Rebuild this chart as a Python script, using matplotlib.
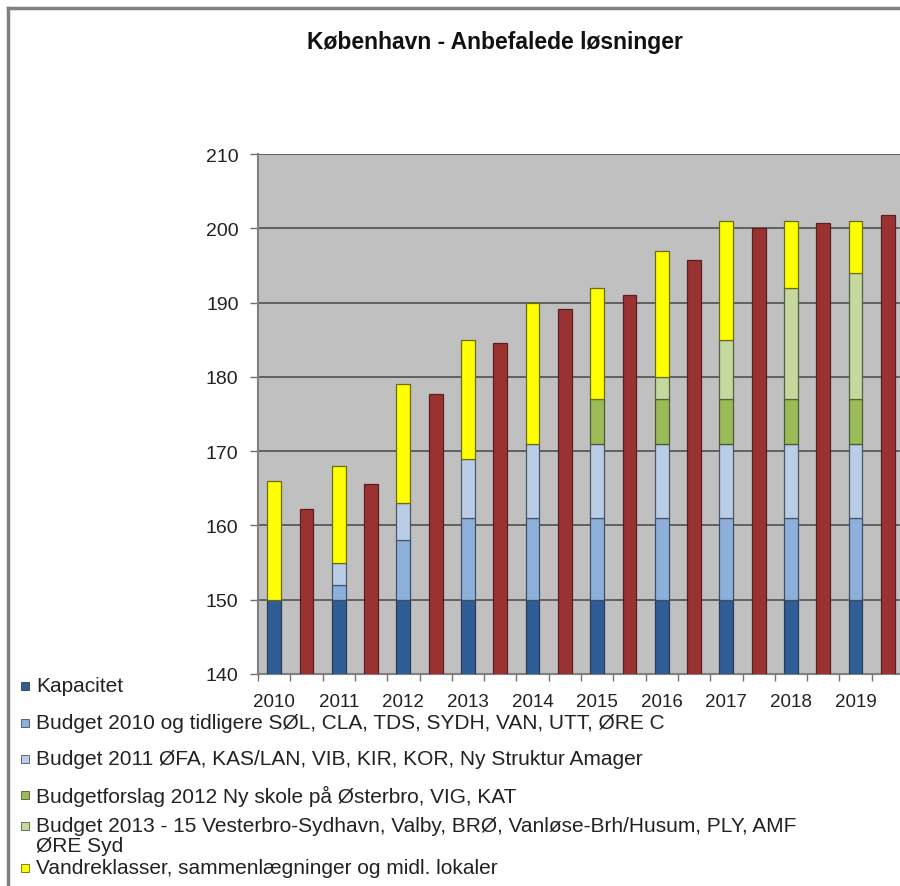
import matplotlib
matplotlib.use("Agg")
import matplotlib.pyplot as plt
import numpy as np
from matplotlib.lines import Line2D
from matplotlib.patches import Rectangle

plt.rcParams['font.family'] = ['Liberation Sans', 'DejaVu Sans']

# data
aar = ['2010', '2011', '2012', '2013', '2014', '2015', '2016', '2017', '2018', '2019']
kapacitet = [150, 150, 150, 150, 150, 150, 150, 150, 150, 150]
budget2010 = [0, 2, 8, 11, 11, 11, 11, 11, 11, 11]
budget2011 = [0, 3, 5, 8, 10, 10, 10, 10, 10, 10]
budget2012 = [0, 0, 0, 0, 0, 6, 6, 6, 6, 6]
budget2013 = [0, 0, 0, 0, 0, 0, 3, 8, 15, 17]
vandre = [16, 13, 16, 16, 19, 15, 17, 16, 9, 7]
behov = [162.2, 165.6, 177.7, 184.6, 189.1, 191.0, 195.7, 200.0, 200.7, 201.8]

labels = ['Kapacitet',
          'Budget 2010 og tidligere SØL, CLA, TDS, SYDH, VAN, UTT, ØRE C',
          'Budget 2011 ØFA, KAS/LAN, VIB, KIR, KOR, Ny Struktur Amager',
          'Budgetforslag 2012 Ny skole på Østerbro, VIG, KAT',
          'Budget 2013 - 15 Vesterbro-Sydhavn, Valby, BRØ, Vanløse-Brh/Husum, PLY, AMF\nØRE Syd',
          'Vandreklasser, sammenlægninger og midl. lokaler']
farver = ['#2F5E96', '#8DB0DA', '#BACDE6', '#9BBB59', '#C5D89D', '#FFFF00']
kanter = ['#2a3b55', '#3d4f66', '#4a5566', '#4a5a30', '#55603f', '#6b6b10']
behov_farve = '#9B3232'

fig = plt.figure(figsize=(9, 8.87), dpi=100)
ax = fig.add_axes([258/900, 1-675/887, 646/900, 520/887])
ax.set_facecolor('#C0C0C0')

x = np.arange(10) * 2
w = 0.43
serier = [kapacitet, budget2010, budget2011, budget2012, budget2013, vandre]
bund = np.zeros(10)
for vals, fc, ec in zip(serier, farver, kanter):
    vals = np.array(vals, dtype=float)
    m = vals > 0
    ax.bar(x[m], vals[m], w, bottom=bund[m], color=fc, edgecolor=ec, linewidth=0.9, zorder=3)
    bund = bund + vals
ax.bar(x + 1, behov, w, color=behov_farve, edgecolor='#5a1e1e', linewidth=0.9, zorder=3)

ax.set_ylim(140, 210)
ax.set_xlim(-0.5, 19.5)
ax.set_yticks(np.arange(140, 211, 10))
ax.yaxis.grid(True, color='#606060', linewidth=1.4, zorder=1)
ax.set_axisbelow(True)

ax.set_xticks(x)
ax.set_xticklabels(aar)
ax.set_xticks(np.arange(-0.5, 19.6, 1), minor=True)
ax.tick_params(axis='x', which='major', length=0, pad=14, labelsize=13.5, colors='#222222')
ax.tick_params(axis='x', which='minor', length=5, color='#707070', width=1)
ax.tick_params(axis='y', length=6, color='#707070', width=1, pad=8, labelsize=14, labelcolor='#222222')

for s in ['top', 'right']:
    ax.spines[s].set_visible(False)
for s in ['left', 'bottom']:
    ax.spines[s].set_color('#808080')
    ax.spines[s].set_linewidth(1.5)

fig.text(495/900, 1-42/887, 'København - Anbefalede løsninger', ha='center', va='center',
         fontsize=16.5, fontweight='bold', color='#111111')

# legend, drawn by hand to match the tight layout of the original
ly = [687, 724, 760, 796, 827, 869]
for yy, lab, fc, ec in zip(ly, labels, farver, kanter):
    fig.add_artist(Rectangle((21/900, 1-(yy+4)/887), 8/900, 8/887, facecolor=fc,
                             edgecolor=ec, linewidth=0.6, transform=fig.transFigure))
    for k, linje in enumerate(lab.split('\n')):
        fig.text(36/900, 1-(yy + 20*k)/887, linje, ha='left', va='center',
                 fontsize=15, color='#222222')

# grey frame on top and left
fig.add_artist(Line2D([8/900, 1], [1-9/887, 1-9/887], color='#808080', linewidth=2.5,
                      transform=fig.transFigure))
fig.add_artist(Line2D([8/900, 8/900], [0, 1-9/887], color='#808080', linewidth=2.5,
                      transform=fig.transFigure))

fig.savefig('out.png', dpi=100)
